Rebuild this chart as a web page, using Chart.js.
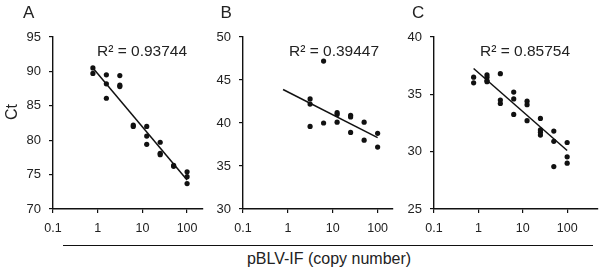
<!DOCTYPE html>
<html>
<head>
<meta charset="utf-8">
<script src="https://cdn.jsdelivr.net/npm/chart.js@4"></script>
<style>
  html, body { margin: 0; padding: 0; background: #fff; }
  #wrap { position: relative; width: 600px; height: 270px; overflow: hidden; background: #fff; }
  canvas { position: absolute; top: 0; }
  #baseline { position: absolute; left: 63px; top: 245px; width: 530px; height: 0; border-top: 1.6px solid #111; }
  #xtitle { position: absolute; left: 0; width: 658px; top: 250px; text-align: center;
            font: 16px "Liberation Sans", Arial, sans-serif; color: #222; }
</style>
</head>
<body>
<div id="wrap">
  <canvas id="cA" width="210" height="240" style="left:0px"></canvas>
  <canvas id="cB" width="210" height="240" style="left:190px"></canvas>
  <canvas id="cC" width="220" height="240" style="left:380px"></canvas>
  <div id="baseline"></div>
  <div id="xtitle">pBLV-IF (copy number)</div>
</div>
<script>
// ---- data ----
const panelLabels = ['A', 'B', 'C'];
const r2Labels = ['R\u00B2 = 0.93744', 'R\u00B2 = 0.39447', 'R\u00B2 = 0.85754'];
const xTicks = [0.1, 1, 10, 100];
const xTickLabels = ['0.1', '1', '10', '100'];
const yTicksA = [70, 75, 80, 85, 90, 95];
const yTicksB = [30, 35, 40, 45, 50];
const yTicksC = [25, 30, 35, 40];

const copiesA = [0.78125, 0.78125, 1.5625, 1.5625, 1.5625, 3.125, 3.125, 3.125, 6.25, 6.25,
                 12.5, 12.5, 12.5, 25, 25, 25, 50, 50, 100, 100, 100];
const ctA     = [90.5, 89.7, 89.5, 88.2, 86.1, 89.4, 88.0, 87.8, 82.2, 82.0,
                 82.0, 80.6, 79.4, 79.7, 78.1, 77.9, 76.35, 76.2, 75.4, 74.7, 73.7];

const copiesB = [3.125, 3.125, 3.125, 6.25, 6.25, 12.5, 12.5, 12.5, 25, 25, 25, 50, 50, 100, 100];
const ctB     = [42.8, 42.2, 39.6, 47.2, 40.0, 41.2, 41.0, 40.1, 40.9, 40.7, 38.9, 40.1, 38.0, 38.8, 37.2];

const copiesC = [0.78125, 0.78125, 1.5625, 1.5625, 1.5625, 1.5625, 3.125, 3.125, 3.125,
                 6.25, 6.25, 6.25, 12.5, 12.5, 12.5, 25, 25, 25, 25, 50, 50, 50, 100, 100, 100];
const ctC     = [36.5, 36.0, 36.7, 36.5, 36.2, 36.1, 36.8, 34.5, 34.2,
                 35.2, 34.6, 33.25, 34.4, 34.1, 32.7, 32.9, 31.9, 31.7, 31.45, 31.8, 30.9, 28.7, 30.8, 29.55, 29.0];

const fitCopies = [0.78125, 100];
const fitA = [90.5, 74.2];
const fitB = [43.9, 38.3];
const fitC = [37.25, 30.1];

// ---- chart construction ----
const FONT = '"Liberation Sans", Arial, Helvetica, sans-serif';
const INK = '#111';
const TXT = '#222';

function pts(xs, ys) { return xs.map((x, i) => ({ x: x, y: ys[i] })); }

function makePanel(id, idx, xs, ys, fit, yTicks, xMax, yWidth, padRight, letterX, r2X, showCt) {
  const annot = {
    id: 'annot' + idx,
    afterDraw(chart) {
      const ctx = chart.ctx;
      ctx.save();
      ctx.fillStyle = TXT;
      ctx.textBaseline = 'alphabetic';
      ctx.textAlign = 'left';
      ctx.font = '17px ' + FONT;
      ctx.fillText(panelLabels[idx], letterX, 17.5);
      ctx.font = '15.5px ' + FONT;
      ctx.fillText(r2Labels[idx], r2X, 56);
      if (showCt) {
        ctx.translate(17, 112);
        ctx.rotate(-Math.PI / 2);
        ctx.textAlign = 'center';
        ctx.font = '16px ' + FONT;
        ctx.fillText('Ct', 0, 0);
      }
      ctx.restore();
    }
  };
  return new Chart(document.getElementById(id), {
    type: 'scatter',
    data: {
      datasets: [
        {
          type: 'scatter',
          data: pts(xs, ys),
          pointRadius: 2.6,
          pointHoverRadius: 2.6,
          pointBackgroundColor: INK,
          pointBorderWidth: 0,
          showLine: false
        },
        {
          type: 'line',
          data: pts(fitCopies, fit),
          borderColor: INK,
          borderWidth: 1.5,
          pointRadius: 0,
          fill: false,
          tension: 0
        }
      ]
    },
    options: {
      responsive: false,
      animation: false,
      events: [],
      layout: { padding: { top: 37, left: 0, right: padRight, bottom: 0 } },
      plugins: { legend: { display: false }, tooltip: { enabled: false }, title: { display: false } },
      scales: {
        x: {
          type: 'logarithmic',
          min: 0.1,
          max: xMax,
          afterBuildTicks(axis) { axis.ticks = xTicks.map(v => ({ value: v })); },
          afterFit(axis) { axis.height = 31; },
          grid: { drawOnChartArea: false, drawTicks: true, tickLength: 4, color: INK, lineWidth: 1.2 },
          border: { display: true, color: INK, width: 1.4 },
          ticks: {
            autoSkip: false, maxRotation: 0, minRotation: 0, padding: 8,
            color: TXT, font: { family: FONT, size: 12.5 },
            callback(value, index) { return xTickLabels[index]; }
          }
        },
        y: {
          type: 'linear',
          min: yTicks[0],
          max: yTicks[yTicks.length - 1],
          afterBuildTicks(axis) { axis.ticks = yTicks.map(v => ({ value: v })); },
          afterFit(axis) { axis.width = yWidth; },
          grid: { drawOnChartArea: false, drawTicks: true, tickLength: 4, color: INK, lineWidth: 1.2 },
          border: { display: true, color: INK, width: 1.4 },
          ticks: {
            padding: 8, color: TXT, font: { family: FONT, size: 13 },
            callback(value) { return String(value); }
          }
        }
      }
    },
    plugins: [annot]
  });
}

makePanel('cA', 0, copiesA, ctA, fitA, yTicksA, 227, 53, 7, 23, 97, true);
makePanel('cB', 1, copiesB, ctB, fitB, yTicksB, 220, 53, 7, 30.5, 99, false);
makePanel('cC', 2, copiesC, ctC, fitC, yTicksC, 480, 54, 2, 32, 100, false);
</script>
</body>
</html>
